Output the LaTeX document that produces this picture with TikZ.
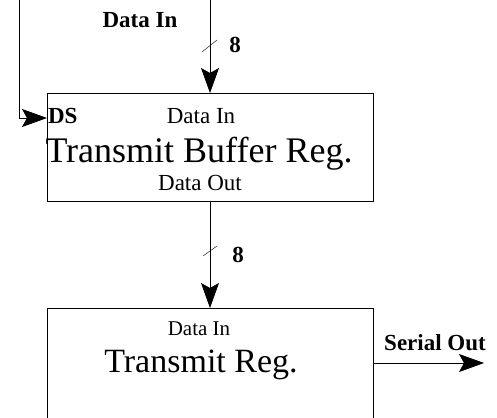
\documentclass[tikz,border=0pt]{standalone}
\usepackage{fontspec}
\setmainfont{Liberation Serif}
\usetikzlibrary{arrows.meta}
\begin{document}
\begin{tikzpicture}[x=1pt,y=-1pt,
  line width=0.8pt,
  box/.style={draw,rectangle,inner sep=0pt,outer sep=0pt},
  lbl/.style={inner sep=0pt,outer sep=0pt,anchor=base,font=\fontsize{23}{23}\selectfont},
  blbl/.style={lbl,font=\fontsize{23}{23}\selectfont\bfseries},
  big/.style={inner sep=0pt,outer sep=0pt,anchor=base,font=\fontsize{36}{36}\selectfont},
  arr/.style={-{Stealth[length=25pt,width=18pt,inset=5pt]}},
  slash/.style={line width=0.4pt}]
\useasboundingbox (0,0) rectangle (497,417);
\clip (0,0) rectangle (497,417);
% boxes
\node[box,minimum width=326pt,minimum height=108pt] (tbr) at (210,147) {};
\node[box,minimum width=326pt,minimum height=136pt] (tr) at (210,376) {};
% texts
\node[blbl] (din) at (140,28) {Data In};
\node[blbl] (e1) at (235,53) {8};
\node[blbl,anchor=base west] (ds) at (48,123) {DS};
\node[lbl] (tdin) at (201,123) {Data In};
\node[big] (tbrt) at (199,162) {Transmit Buffer Reg.};
\node[lbl] (tdout) at (200,190) {Data Out};
\node[blbl] (e2) at (238,262) {8};
\node[lbl,font=\fontsize{21}{21}\selectfont] (bdin) at (199,335) {Data In};
\node[big,font=\fontsize{34}{34}\selectfont] (trt) at (201,372) {Transmit Reg.};
\node[blbl] (sout) at (435,350) {Serial Out};
% coordinates
\coordinate (topin) at (210,0);
\coordinate (dsin) at (19,0);
\coordinate (dscorner) at (19,118);
\coordinate (serend) at (484,363);
% connectors
\draw[arr] (topin) -- (tbr.north);
\draw[arr] (dsin) -- (dscorner) -- (tbr.west |- dscorner);
\draw[arr] (tbr.south) -- (tr.north);
\draw[arr] (tr.east |- serend) -- (serend);
% bus slashes
\draw[slash] (202,52) -- (217,40);
\draw[slash] (203,256) -- (217,246);
\end{tikzpicture}
\end{document}
